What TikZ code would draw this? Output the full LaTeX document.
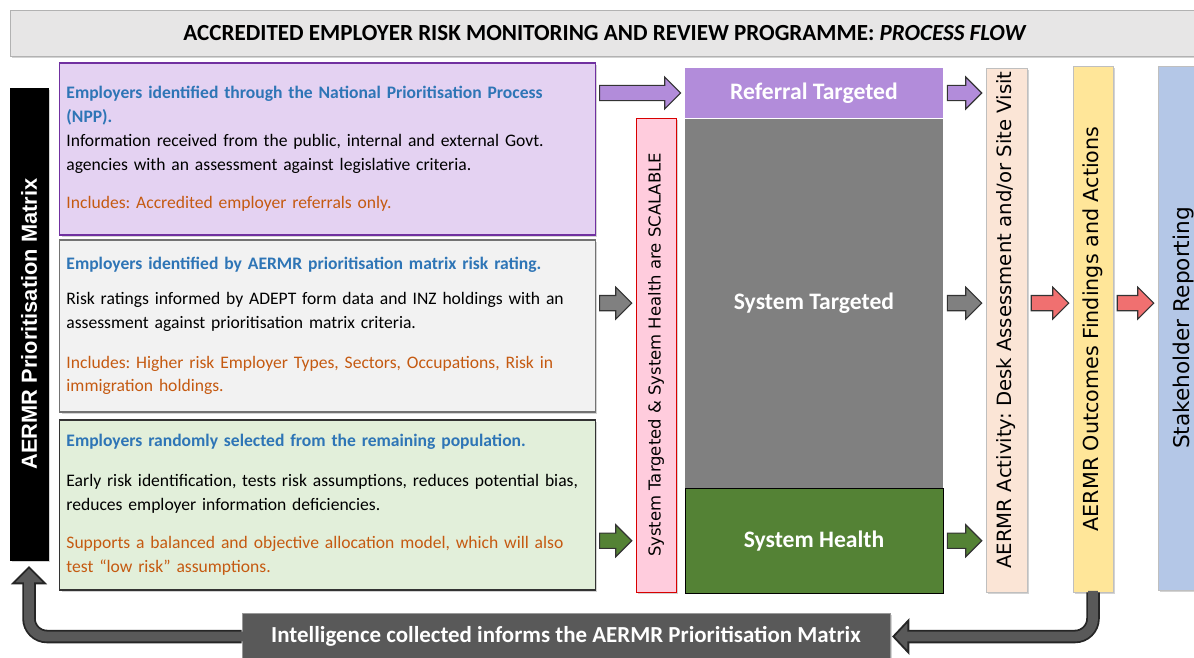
\documentclass[tikz,border=0pt]{standalone}
\usepackage{fontspec}
\setmainfont{Carlito}
\newfontfamily\barfont{DejaVu Sans}
\newfontfamily\matrixfont{Liberation Sans}
\usepackage{tikz}
\usetikzlibrary{calc, shadows, positioning}
\definecolor{titlegray}{RGB}{231,230,230}
\definecolor{nppfill}{RGB}{228,210,242}
\definecolor{nppdraw}{RGB}{112,48,160}
\definecolor{riskfill}{RGB}{242,242,242}
\definecolor{randfill}{RGB}{226,239,218}
\definecolor{headblue}{RGB}{46,117,182}
\definecolor{noteorange}{RGB}{197,90,17}
\definecolor{refpurple}{RGB}{178,140,218}
\definecolor{sysgray}{RGB}{128,128,128}
\definecolor{healthgreen}{RGB}{84,130,53}
\definecolor{scalepink}{RGB}{255,204,221}
\definecolor{activitypeach}{RGB}{251,229,214}
\definecolor{outcomeyellow}{RGB}{255,230,153}
\definecolor{stakeblue}{RGB}{180,199,231}
\definecolor{arrowred}{RGB}{240,112,112}
\definecolor{intelgray}{RGB}{89,89,89}
\frenchspacing

\begin{document}
\begin{tikzpicture}[
    x=0.025cm, y=-0.025cm,
    shadowed/.style={drop shadow={shadow xshift=1.2pt, shadow yshift=-1.2pt, opacity=0.35}},
    infobox/.style={rectangle, draw, thick, shadowed, minimum width=13.375cm, text width=13.05cm, align=left, font=\fontsize{12.5}{17}\selectfont, inner sep=0pt},
    vbar/.style={rectangle, rotate=90, inner sep=0pt, shadowed, draw=black!25},
    stage/.style={rectangle, minimum width=6.45cm, font=\fontsize{16.8}{18}\selectfont\bfseries, text=white, inner sep=0pt},
    blockarrow/.style={draw=black!80, thick, line join=miter, to path={
        let \p1=(\tikztostart), \p2=(\tikztotarget) in
        (\x1+1mm,\y1+0.19cm) -- (\x2-0.5cm,\y1+0.19cm) -- (\x2-0.5cm,\y1+0.4cm) -- (\x2-1mm,\y1)
        -- (\x2-0.5cm,\y1-0.4cm) -- (\x2-0.5cm,\y1-0.19cm) -- (\x1+1mm,\y1-0.19cm) -- cycle}},
    loopouter/.style={line width=9.6pt, black!85, rounded corners=0.45cm},
    loopinner/.style={line width=7pt, intelgray, rounded corners=0.45cm},
    loophead/.style={fill=intelgray, draw=black!85, line width=1.3pt, line join=miter}
]
    \useasboundingbox (0,0) rectangle (1194,657);

    % Title
    \node[rectangle, draw=black!30, fill=titlegray, shadowed, minimum width=29.75cm, minimum height=1.15cm, font=\fontsize{16.4}{18}\selectfont\bfseries] (title) at (605,33)
        {ACCREDITED EMPLOYER RISK MONITORING AND REVIEW PROGRAMME: \textit{PROCESS FLOW}};

    % Prioritisation matrix
    \node[vbar, fill=black, draw=black, minimum width=11.8cm, minimum height=0.95cm, font=\matrixfont\bfseries\fontsize{15.5}{17}\selectfont, text=white] (prioritymatrix) at (29,324) {AERMR Prioritisation Matrix};

    % Selection pools
    \node[infobox, fill=nppfill, draw=nppdraw, minimum height=4.3cm] (npp) at (327.5,149) {%
        \textcolor{headblue}{\bfseries Employers identified through the National Prioritisation Process}\\
        \textcolor{headblue}{\bfseries (NPP).}\\
        Information received from the public, internal and external Govt.\\
        agencies with an assessment against legislative criteria.\\[0.35cm]
        \textcolor{noteorange}{Includes: Accredited employer referrals only.}};
    \node[infobox, fill=riskfill, draw=black!55, minimum height=4.3cm] (risk) at (327.5,326) {%
        \textcolor{headblue}{\bfseries Employers identified by AERMR prioritisation matrix risk rating.}\\[0.275cm]
        Risk ratings informed by ADEPT form data and INZ holdings with an\\
        assessment against prioritisation matrix criteria.\\[0.4cm]
        \textcolor{noteorange}{Includes: Higher risk Employer Types, Sectors, Occupations, Risk in}\\
        \textcolor{noteorange}{immigration holdings.}};
    \node[infobox, fill=randfill, draw=black!80, minimum height=4.25cm] (random) at (327.5,505) {%
        \textcolor{headblue}{\bfseries Employers randomly selected from the remaining population.}\\[0.4cm]
        Early risk identification, tests risk assumptions, reduces potential bias,\\
        reduces employer information deficiencies.\\[0.35cm]
        \textcolor{noteorange}{Supports a balanced and objective allocation model, which will also}\\
        \textcolor{noteorange}{test ``low risk'' assumptions.}};

    % Scalable bar
    \node[vbar, fill=scalepink, draw=red!85!black, minimum width=11.85cm, minimum height=1cm, font=\barfont\fontsize{11.7}{13}\selectfont] (scalable) at (656,355) {System Targeted \& System Health are SCALABLE};

    % Stages
    \node[stage, fill=refpurple, minimum height=1.25cm] (reftgt) at (814,93) {Referral Targeted};
    \node[stage, fill=sysgray, minimum height=9.225cm, below=0pt of reftgt] (systgt) {System Targeted};
    \node[stage, fill=healthgreen, draw=black, minimum height=2.625cm, below=0pt of systgt] (syshealth) {System Health};

    % Activity, outcomes, reporting
    \node[vbar, fill=activitypeach, minimum width=13.1cm, minimum height=1.025cm, font=\barfont\fontsize{14}{15}\selectfont] (activity) at (1006.5,330) {\hspace*{0.5cm}AERMR Activity: Desk Assessment and/or Site Visit};
    \node[vbar, fill=outcomeyellow, minimum width=13.15cm, minimum height=1cm, font=\barfont\fontsize{14.7}{16}\selectfont] (outcomes) at (1093,329) {AERMR Outcomes Findings and Actions};
    \node[vbar, fill=stakeblue, minimum width=13.1cm, minimum height=1.3cm, font=\barfont\fontsize{15.4}{17}\selectfont] (stake) at (1184,328) {Stakeholder Reporting};

    % Intelligence feedback
    \node[rectangle, fill=intelgray, draw=black!40, shadowed, minimum width=16.2cm, minimum height=1.175cm, font=\fontsize{16.3}{18}\selectfont\bfseries, text=white] (intel) at (566,636.5) {Intelligence collected informs the AERMR Prioritisation Matrix};

    % Block arrows
    \draw[blockarrow, fill=refpurple] (npp.east |- reftgt) to (reftgt.west);
    \draw[blockarrow, fill=sysgray] (risk.east |- systgt) to (scalable.north |- systgt);
    \draw[blockarrow, fill=healthgreen] (random.east |- syshealth) to (scalable.north |- syshealth);
    \draw[blockarrow, fill=refpurple] (reftgt.east) to (activity.north |- reftgt);
    \draw[blockarrow, fill=sysgray] (systgt.east) to (activity.north |- systgt);
    \draw[blockarrow, fill=healthgreen] (syshealth.east) to (activity.north |- syshealth);
    \draw[blockarrow, fill=arrowred] (activity.south |- systgt) to (outcomes.north |- systgt);
    \draw[blockarrow, fill=arrowred] (outcomes.south |- systgt) to (stake.north |- systgt);

    % Feedback loops
    \coordinate (leftbase) at ([yshift=-0.575cm]prioritymatrix.west);
    \coordinate (rightbase) at ([xshift=0.45cm]intel.east);
    \draw[loopouter] (intel.west) -| (leftbase);
    \filldraw[loophead] (leftbase) ++(-0.4cm,0) -- ++(0.4cm,0.4cm) -- ++(0.4cm,-0.4cm) -- cycle;
    \draw[loopinner] ([xshift=1pt]intel.west) -| ([yshift=1pt]leftbase);
    \draw[loopouter] (outcomes.west) |- (rightbase);
    \filldraw[loophead] (rightbase) ++(0,0.4cm) -- ++(-0.375cm,-0.4cm) -- ++(0.375cm,-0.4cm) -- cycle;
    \draw[loopinner] ([yshift=1pt]outcomes.west) |- ([xshift=-1pt]rightbase);
\end{tikzpicture}
\end{document}
